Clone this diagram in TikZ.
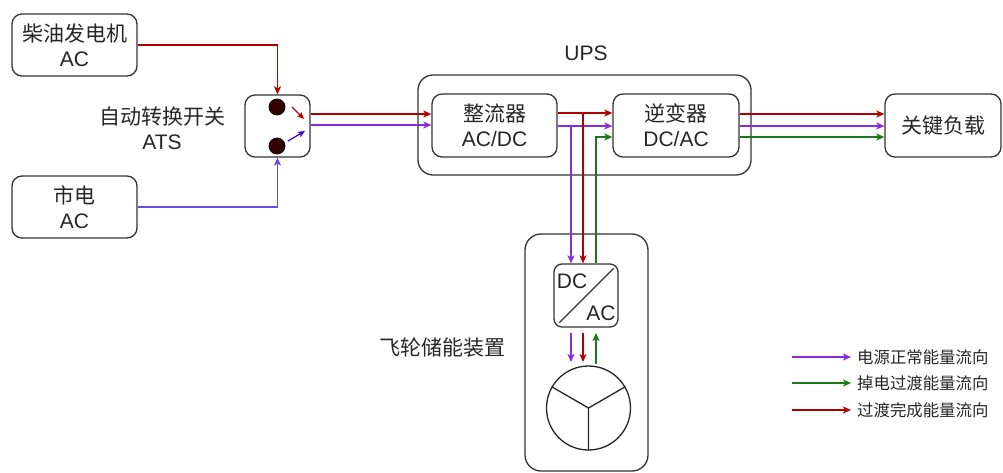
\documentclass[tikz,border=0pt]{standalone}
\usepackage{fontspec}
\setmainfont{Liberation Sans}
\newfontfamily\cjk{Noto Sans CJK SC}
\usetikzlibrary{arrows.meta}
\definecolor{cred}{HTML}{B20000}
\definecolor{cpur}{HTML}{8A2BE2}
\definecolor{cgrn}{HTML}{1A7A1A}
\definecolor{cblu}{HTML}{6A4BE8}
\definecolor{cbludk}{HTML}{3300CC}
\definecolor{cbord}{HTML}{333333}
\definecolor{cdot}{HTML}{330000}
\begin{document}
\begin{tikzpicture}[x=1pt,y=-1pt,
  box/.style={draw=cbord,line width=1.3pt,rounded corners=10pt,align=center,inner sep=0pt,
    font=\fontsize{21}{25}\selectfont,text=black!85},
  flow/.style={line width=1.3pt,-{Stealth[length=8pt,width=7pt,inset=2pt]}},
  lbl/.style={align=center,inner sep=0pt,font=\fontsize{21}{25}\selectfont,text=black!85},
  leg/.style={anchor=west,inner sep=0pt,font=\fontsize{16.4}{19}\selectfont\cjk,text=black!85}]
\useasboundingbox (0,0) rectangle (1003,472);
% boxes
\node[box,minimum width=125pt,minimum height=62pt] (gen) at (74.5,45) {{\cjk 柴油发电机}\\AC};
\node[box,minimum width=125pt,minimum height=62pt] (mains) at (74.5,207) {{\cjk 市电}\\AC};
\node[box,minimum width=65pt,minimum height=62pt] (ats) at (277.5,126) {};
\node[lbl] (atslbl) at (162,128) {{\cjk 自动转换开关}\\ATS};
\node[box,minimum width=333pt,minimum height=100pt,rounded corners=15pt] (ups) at (584.5,125) {};
\node[lbl] (upslbl) at (586,53) {UPS};
\node[box,minimum width=125pt,minimum height=63pt] (rect) at (494.5,125.5) {{\cjk 整流器}\\AC/DC};
\node[box,minimum width=126pt,minimum height=63pt] (inv) at (676,125.5) {{\cjk 逆变器}\\DC/AC};
\node[box,minimum width=116pt,minimum height=63pt] (load) at (943,125.5) {\cjk 关键负载};
\node[box,minimum width=123pt,minimum height=237pt,rounded corners=16pt] (fly) at (586.5,352.5) {};
\node[lbl] (flylbl) at (442,348) {\cjk 飞轮储能装置};
\node[box,minimum width=64pt,minimum height=63pt,rounded corners=8pt] (dcac) at (586,295.5) {};
\draw[cbord,line width=1.3pt] ([shift={(6,-5)}]dcac.south west) -- ([shift={(-5,5)}]dcac.north east);
\node[lbl,anchor=center] (dclbl) at (572,281) {DC};
\node[lbl,anchor=center] (aclbl) at (601,313) {AC};
% flywheel
\node[draw=black!85,line width=1.3pt,circle,minimum size=84pt,inner sep=0pt] (wheel) at (588.5,408) {};
\draw[black!85,line width=1.3pt] (wheel.center) -- (wheel.150) (wheel.center) -- (wheel.30) (wheel.center) -- (wheel.270);
% ATS internals
\node[draw=black,line width=0.8pt,fill=cdot,circle,minimum size=16pt,inner sep=0pt] (d1) at (277,107) {};
\node[draw=black,line width=0.8pt,fill=cdot,circle,minimum size=16pt,inner sep=0pt] (d2) at (277,146) {};
\coordinate (a1s) at (292,107); \coordinate (a1e) at (304,119);
\coordinate (a2s) at (288,141); \coordinate (a2e) at (305,131);
\draw[flow,cred,line width=1.2pt,-{Stealth[length=7pt,width=6pt,inset=1.5pt]}] (a1s) -- (a1e);
\draw[flow,cbludk,line width=1.2pt,-{Stealth[length=7pt,width=6pt,inset=1.5pt]}] (a2s) -- (a2e);
% sources to ATS
\draw[flow,cred] (gen.east) -| (ats.north);
\draw[flow,cblu,-{Stealth[length=8pt,width=7pt,inset=2pt,fill=cbludk]}] (mains.east) -| (ats.south);
% ATS to rectifier
\draw[flow,cred] (ats.east |- 0,114) -- (rect.west |- 0,114);
\draw[flow,cpur] (ats.east |- 0,125) -- (rect.west |- 0,125);
% rectifier to inverter
\draw[flow,cred] (rect.east |- 0,113) -- (inv.west |- 0,113);
\draw[flow,cpur] (rect.east |- 0,126) -- (inv.west |- 0,126);
\coordinate (bp) at (571,126); \coordinate (br) at (583,113); \coordinate (bg) at (596,137);
\draw[flow,cpur] (bp) -- (dcac.north -| bp);
\draw[flow,cred] (br) -- (dcac.north -| br);
\draw[flow,cgrn] (dcac.north -| bg) -- (bg) -- (inv.west |- bg);
% inverter to load
\draw[flow,cred] (inv.east |- 0,114) -- (load.west |- 0,114);
\draw[flow,cpur] (inv.east |- 0,126) -- (load.west |- 0,126);
\draw[flow,cgrn] (inv.east |- 0,137) -- (load.west |- 0,137);
% dcac to wheel
\coordinate (wp1) at (571,333); \coordinate (wp2) at (571,362);
\coordinate (wr1) at (583,333); \coordinate (wr2) at (583,362);
\coordinate (wg1) at (596,364); \coordinate (wg2) at (596,333);
\draw[flow,cpur] (wp1) -- (wp2);
\draw[flow,cred] (wr1) -- (wr2);
\draw[flow,cgrn] (wg1) -- (wg2);
% legend
\coordinate (l1s) at (792,357); \coordinate (l1e) at (851,357);
\coordinate (l2s) at (792,383); \coordinate (l2e) at (851,383);
\coordinate (l3s) at (792,410); \coordinate (l3e) at (851,410);
\draw[flow,cpur,line width=1.2pt] (l1s) -- (l1e);
\draw[flow,cgrn,line width=1.2pt] (l2s) -- (l2e);
\draw[flow,cred,line width=1.2pt] (l3s) -- (l3e);
\node[leg] (t1) at (857,357) {电源正常能量流向};
\node[leg] (t2) at (857,383) {掉电过渡能量流向};
\node[leg] (t3) at (857,410) {过渡完成能量流向};
\end{tikzpicture}
\end{document}
